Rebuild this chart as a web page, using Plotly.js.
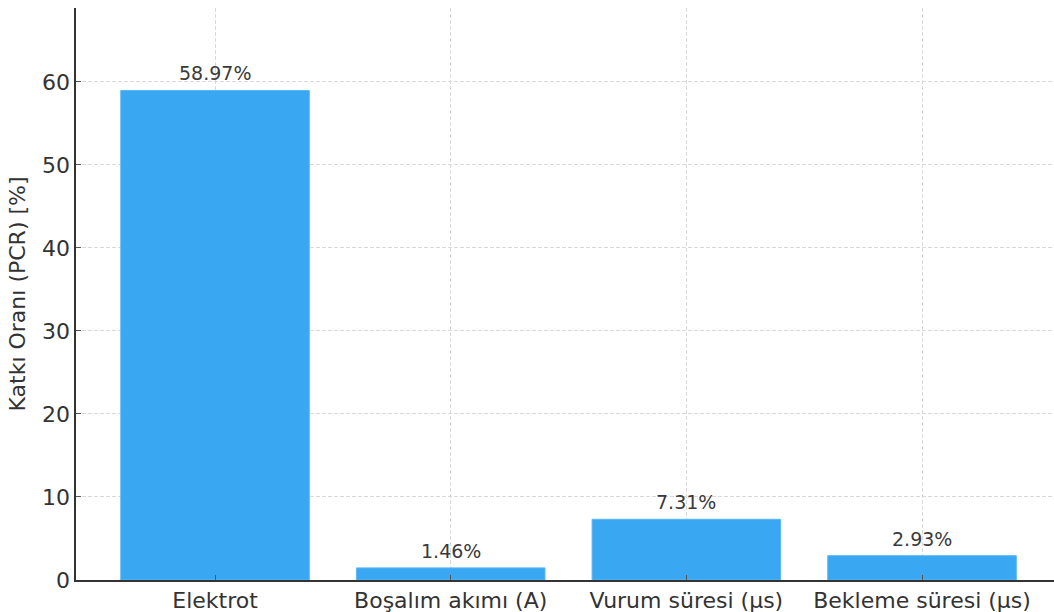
<!DOCTYPE html>
<html>
<head>
<meta charset="utf-8">
<script src="https://cdn.plot.ly/plotly-3.0.1.min.js"></script>
<style>html,body{margin:0;padding:0;background:#fff;}#chart{width:1054px;height:612px;}</style>
</head>
<body>
<div id="chart"></div>
<script>
const categories = ["Elektrot", "Boşalım akımı (A)", "Vurum süresi (µs)", "Bekleme süresi (µs)"];
const pcrValues = [58.97, 1.46, 7.31, 2.93];
const valueLabels = pcrValues.map(v => v.toFixed(2) + "%");
const yTicks = [0, 10, 20, 30, 40, 50, 60];

const font = "DejaVu Sans, Liberation Sans, sans-serif";
const idx = categories.map((c, i) => i);

const trace = {
  type: "bar",
  x: idx,
  y: pcrValues,
  width: 0.8,
  marker: {color: "#39A7F1", line: {color: "#5BB6F3", width: 1}},
  hoverinfo: "none"
};

const annotations = idx.map(i => ({
  x: i, y: pcrValues[i], xref: "x", yref: "y",
  text: valueLabels[i], showarrow: false,
  yanchor: "bottom", yshift: 4,
  font: {family: font, size: 19, color: "#3a3a3a"}
}));

const layout = {
  width: 1054, height: 612,
  margin: {l: 76, r: 0, t: 8, b: 32},
  paper_bgcolor: "#fff", plot_bgcolor: "#fff",
  showlegend: false,
  font: {family: font, color: "#333333"},
  annotations: annotations,
  xaxis: {
    range: [-0.59, 3.56],
    tickmode: "array",
    tickvals: idx,
    ticktext: categories,
    tickfont: {family: font, size: 22, color: "#333333"},
    ticks: "inside", ticklen: 5, tickcolor: "#555",
    showgrid: true, gridcolor: "#d9d9d9", griddash: "4px,2px", gridwidth: 1,
    showline: true, linecolor: "#333333", linewidth: 1.6,
    zeroline: false, layer: "above traces", fixedrange: true
  },
  yaxis: {
    range: [0, 68.9],
    tickmode: "array",
    tickvals: yTicks,
    ticktext: yTicks.map(String),
    tickfont: {family: font, size: 22, color: "#333333"},
    ticks: "inside", ticklen: 5, tickcolor: "#555",
    showgrid: true, gridcolor: "#d9d9d9", griddash: "4px,2px", gridwidth: 1,
    showline: true, linecolor: "#333333", linewidth: 1.6,
    zeroline: false, layer: "above traces",
    title: {text: "Katkı Oranı (PCR) [%]", font: {family: font, size: 22, color: "#333333"}, standoff: 10},
    fixedrange: true
  }
};

Plotly.newPlot("chart", [trace], layout, {displayModeBar: false, staticPlot: true});
</script>
</body>
</html>
